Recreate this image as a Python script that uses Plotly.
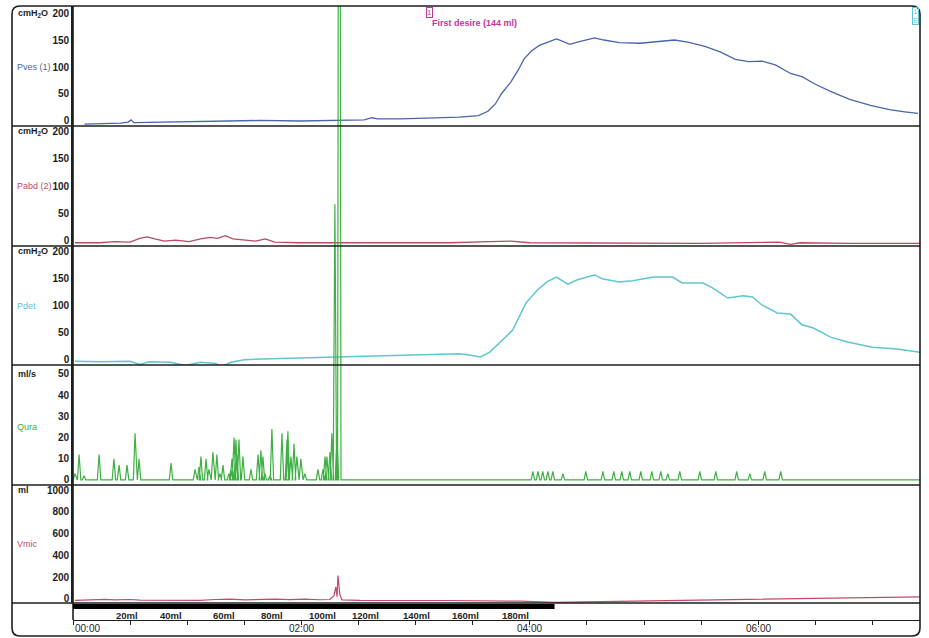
import plotly.graph_objects as go

# ---------------- data ----------------
T_END = 445  # seconds shown on the time axis

time_tick_seconds = [0, 120, 240, 360]
time_tick_labels = ["00:00", "02:00", "04:00", "06:00"]

volume_label_seconds = [28.4, 51.5, 79.3, 104.5, 131.3, 153.9, 180.7, 206.4, 232.7]
volume_labels = ["20ml", "40ml", "60ml", "80ml", "100ml", "120ml", "140ml", "160ml", "180ml"]

infusion_end_s = 253
first_desire_s = 187.5
first_desire_text = "First desire (144 ml)"
end_marker_s = 442.5

pves_t = [6, 14, 25, 29, 30.5, 32, 46, 67, 82, 98, 119, 140, 153, 157, 160, 172, 187, 203, 213,
          218, 222, 225, 230, 234, 237, 241, 245, 250, 254, 257, 261, 265, 269, 274, 279, 287,
          298, 308, 316, 323, 332, 340, 348, 355, 362, 369, 377, 383, 390, 398, 408, 419, 429,
          437, 444]
pves_v = [-6, -5, -4, -2, 2, -3, -2, -1, 1, 1, 0, 1, 2, 6, 4, 4, 5, 7, 10,
          18, 32, 50, 72, 95, 115, 130, 140, 147, 152, 148, 142, 146, 150, 154, 150, 145,
          144, 147, 150, 146, 138, 128, 114, 110, 111, 104, 88, 82, 68, 55, 40, 29, 21,
          17, 14]

pabd_t = [1, 14, 22, 30, 35, 39, 43, 48, 54, 61, 67, 72, 76, 80, 84, 90, 96, 101, 106, 119,
          140, 161, 182, 198, 219, 230, 240, 277, 329, 371, 377, 382, 408, 445]
pabd_v = [-5, -5, -3, -4, 3, 6, 2, -2, 0, -3, 2, 5, 3, 8, 2, 0, -2, 2, -4, -5,
          -5, -4, -4, -5, -3, -2, -5, -5, -6, -4, -8, -5, -6, -6]

pdet_t = [1, 14, 30, 35, 40, 51, 59, 67, 75, 78, 83, 90, 109, 130, 151, 172, 193, 203, 209,
          214, 219, 224, 231, 238, 244, 249, 254, 260, 265, 274, 278, 287, 294, 305, 315, 320,
          331, 336, 344, 352, 357, 362, 370, 377, 383, 389, 398, 407, 420, 433, 445]
pdet_v = [-4, -5, -4, -10, -5, -6, -12, -6, -8, -14, -6, -1, 1, 3, 5, 7, 9, 10, 7,
          4, 13, 30, 54, 105, 129, 144, 153, 140, 148, 157, 150, 144, 146, 153, 153, 142,
          142, 133, 114, 118, 116, 101, 86, 84, 64, 58, 41, 32, 22, 19, 13]

qura_peak_t = [1.0, 3.2, 5.8, 13.7, 21.5, 24.2, 28.4, 32.6, 34.7, 51.5, 64.1, 66.2, 67.2, 69.9,
               71.4, 73.5, 75.6, 77.2, 78.8, 81.9, 83.0, 83.5, 84.6, 85.6, 86.1, 87.2, 89.3,
               93.5, 97.2, 98.7, 99.8, 100.8, 103.5, 104.5, 109.8, 112.4, 112.9, 114.5, 116.1,
               117.6, 119.7, 121.8, 128.7, 131.3, 132.4, 133.4, 135.0, 136.0, 137.6, 138.7,
               139.9,
               241.6, 244.3, 246.8, 249.5, 252.1, 257.4, 269.4, 278.4, 284.1, 288.3, 292.5,
               298.3, 304.1, 308.8, 312.5, 318.8, 329.3, 337.7, 348.7, 355.6, 363.4, 371.8]
qura_peak_v = [3, 12, 2, 12, 10, 7, 7, 22, 10, 8, 5, 6, 11, 10,
               5, 13, 12, 3, 7, 3, 5, 10, 20, 19, 12, 19, 11,
               5, 12, 14, 11, 3, 2, 24, 22, 19, 23, 11, 17,
               11, 10, 3, 5, 5, 11, 11, 13, 22, 130, 23,
               600,
               4, 4, 4, 4, 4, 3, 4, 4, 4, 4, 4,
               4, 4, 4, 3, 4, 4, 4, 4, 3, 4, 4]

vmic_t = [1, 11.6, 16.8, 22, 30, 35.2, 66.7, 74.6, 82.5, 90.3, 98.2, 106.1, 114, 121.8, 129.7,
          135, 137.1, 138.1, 138.7, 139.2, 140.2, 141.3, 150.7, 171.7, 198, 234.8, 253.2,
          303, 355.6, 408, 444.9]
vmic_v = [-12, -8, -3, -9, -5, -10, -12, -5, -2, -8, -4, -1, -6, -2, -7,
          -5, 30, 110, 20, 215, 40, -8, -12, -12, -14, -20, -32,
          -18, -5, 8, 20]

# ---------------- layout geometry ----------------
W, H = 929, 638
ML, MR, MT, MB = 73, 9, 6, 18
PW = W - ML - MR
PH = H - MT - MB


def px_x(X):
    return (X - ML) / PW


def px_y(Y):
    return (H - MB - Y) / PH


panel_px = [(6, 126), (126, 246), (246, 365), (365, 485), (485, 603)]
domains = [[px_y(b), px_y(t)] for t, b in panel_px]
ranges = [[-9.3, 213], [-11, 211], [-11, 211], [-2.4, 54.2], [-37, 1046]]

# Qura axis extended to the top so that the flow spike runs through upper panels
q_lo, q_hi = ranges[3]
d_lo, d_hi = domains[3]
q_top = q_lo + (q_hi - q_lo) * (1 - d_lo) / (d_hi - d_lo)

qx, qy = [0], [0]
hw = 0.9
for t, v in zip(qura_peak_t, qura_peak_v):
    qx += [t - hw, t, t + hw]
    qy += [0, v, 0]
qx.append(T_END)
qy.append(0)

C_PVES = "#4a66aa"
C_PABD = "#b84a64"
C_PDET = "#5ec6d0"
C_QURA = "#3fb043"
C_VMIC = "#c24a68"
C_MAG = "#c2369c"
INK = "#1e1e1e"
FONT = "Liberation Sans, Arial, sans-serif"

fig = go.Figure()
fig.add_trace(go.Scatter(x=pves_t, y=pves_v, mode="lines", line=dict(color=C_PVES, width=1.3),
                         xaxis="x", yaxis="y"))
fig.add_trace(go.Scatter(x=pabd_t, y=pabd_v, mode="lines", line=dict(color=C_PABD, width=1.3),
                         xaxis="x", yaxis="y2"))
fig.add_trace(go.Scatter(x=pdet_t, y=pdet_v, mode="lines", line=dict(color=C_PDET, width=1.5),
                         xaxis="x", yaxis="y3"))
fig.add_trace(go.Scatter(x=vmic_t, y=vmic_v, mode="lines", line=dict(color=C_VMIC, width=1.2),
                         xaxis="x", yaxis="y5"))
fig.add_trace(go.Scatter(x=qx, y=qy, mode="lines", line=dict(color=C_QURA, width=1.2),
                         xaxis="x", yaxis="y4"))

tickfont = dict(family=FONT, size=10, color=INK, weight="bold")
yax_common = dict(anchor="x", side="left", showline=True, linecolor=INK, linewidth=1.6,
                  showgrid=False, zeroline=False, ticks="", tickfont=tickfont,
                  automargin=False, fixedrange=True)

layout_axes = {}
tick_sets = [[0, 50, 100, 150, 200]] * 3 + [[0, 10, 20, 30, 40, 50], [0, 200, 400, 600, 800, 1000]]
for i in range(5):
    name = "yaxis" if i == 0 else f"yaxis{i + 1}"
    dom = domains[i]
    rng = ranges[i]
    if i == 3:
        dom = [d_lo, 1]
        rng = [q_lo, q_top]
    layout_axes[name] = dict(yax_common, domain=dom, range=rng, tickvals=tick_sets[i])

fig.update_layout(
    width=W, height=H,
    margin=dict(l=ML, r=MR, t=MT, b=MB),
    paper_bgcolor="white", plot_bgcolor="rgba(0,0,0,0)",
    showlegend=False,
    font=dict(family=FONT, color=INK),
    xaxis=dict(domain=[0, 1], range=[0, T_END], anchor="free", position=0,
               showline=True, linecolor=INK, linewidth=1.4, showgrid=False, zeroline=False,
               ticks="outside", ticklen=4, tickwidth=1.3, tickcolor=INK, tick0=0, dtick=30,
               showticklabels=False, fixedrange=True),
    **layout_axes,
)

shapes = []
# outer rounded frame
x0, x1 = px_x(12), px_x(920)
yb, yt = px_y(636), px_y(6)
rx, ry = 8 / PW, 8 / PH
path = (f"M {x0 + rx},{yt} L {x1 - rx},{yt} Q {x1},{yt} {x1},{yt - ry} "
        f"L {x1},{yb + ry} Q {x1},{yb} {x1 - rx},{yb} L {x0 + rx},{yb} "
        f"Q {x0},{yb} {x0},{yb + ry} L {x0},{yt - ry} Q {x0},{yt} {x0 + rx},{yt} Z")
shapes.append(dict(type="path", path=path, xref="paper", yref="paper",
                   line=dict(color=INK, width=1.6)))
# panel separators
for Y in [126, 246, 365, 485, 603]:
    shapes.append(dict(type="line", xref="paper", yref="paper", x0=x0, x1=x1,
                       y0=px_y(Y), y1=px_y(Y), line=dict(color=INK, width=1.6)))
# left axis line down to the time axis
shapes.append(dict(type="line", xref="paper", yref="paper", x0=0, x1=0, y0=0, y1=1,
                   line=dict(color=INK, width=1.6)))
# infusion bar
shapes.append(dict(type="rect", xref="x", yref="paper", x0=0, x1=infusion_end_s,
                   y0=px_y(609), y1=px_y(604), fillcolor="black", line=dict(width=0)))

annotations = []
units = ["cmH<sub>2</sub>O", "cmH<sub>2</sub>O", "cmH<sub>2</sub>O", "ml/s", "ml"]
unit_vals = [200, 200, 200, 50, 1000]
names = ["Pves (1)", "Pabd (2)", "Pdet", "Qura", "Vmic"]
name_vals = [100, 100, 100, 25, 500]
name_cols = [C_PVES, C_PABD, C_PDET, C_QURA, C_VMIC]
yrefs = ["y", "y2", "y3", "y4", "y5"]
for i in range(5):
    annotations.append(dict(xref="paper", yref=yrefs[i], x=px_x(16), y=unit_vals[i],
                            xanchor="left", yanchor="middle", showarrow=False, text=units[i],
                            font=dict(family=FONT, size=9, color=INK, weight="bold")))
    annotations.append(dict(xref="paper", yref=yrefs[i], x=px_x(15), y=name_vals[i],
                            xanchor="left", yanchor="middle", showarrow=False, text=names[i],
                            font=dict(family=FONT, size=9, color=name_cols[i])))

for t, lab in zip(time_tick_seconds, time_tick_labels):
    annotations.append(dict(xref="x", yref="paper", x=t, y=0, yanchor="top", yshift=-1,
                            xanchor="left" if t == 0 else "center", showarrow=False, text=lab,
                            font=dict(family=FONT, size=10, color=INK)))
for t, lab in zip(volume_label_seconds, volume_labels):
    annotations.append(dict(xref="x", yref="paper", x=t, y=px_y(615), yanchor="middle",
                            xanchor="center", showarrow=False, text=lab,
                            font=dict(family=FONT, size=9.5, color=INK, weight="bold")))

# events
annotations.append(dict(xref="x", yref="paper", x=first_desire_s, y=px_y(12), xanchor="center",
                        yanchor="middle", showarrow=False, text="1", borderpad=0,
                        bordercolor=C_MAG, borderwidth=1,
                        font=dict(family=FONT, size=8, color=C_MAG)))
annotations.append(dict(xref="x", yref="paper", x=first_desire_s, y=px_y(23), xanchor="left",
                        yanchor="middle", showarrow=False, text=first_desire_text,
                        font=dict(family=FONT, size=9, color=C_MAG, weight="bold")))
annotations.append(dict(xref="x", yref="paper", x=end_marker_s, y=px_y(16), xanchor="center",
                        yanchor="middle", showarrow=False, text="1<br>E", borderpad=0,
                        bordercolor=C_PDET, borderwidth=1,
                        font=dict(family=FONT, size=7, color=C_PDET)))

fig.update_layout(shapes=shapes, annotations=annotations)
fig.write_html("out.html", config={"displayModeBar": False},
               post_script="document.body.style.margin='0';")
